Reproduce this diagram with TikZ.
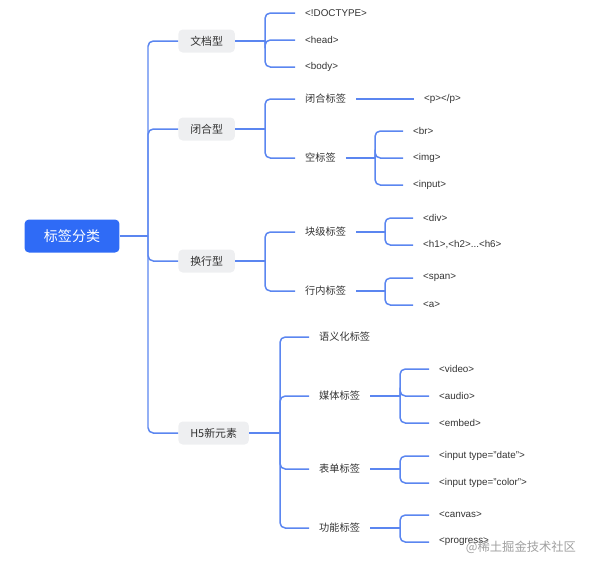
\documentclass[tikz,border=0pt]{standalone}
\usepackage{fontspec}
\setmainfont{Liberation Sans}
\newfontfamily\cjk{Noto Sans CJK SC}
\usetikzlibrary{positioning}
\definecolor{rootblue}{HTML}{2F6BF6}
\definecolor{lineblue}{HTML}{5B86F0}
\definecolor{boxgray}{HTML}{EEEFF1}
\definecolor{textdark}{HTML}{333333}

\begin{document}
\begin{tikzpicture}[x=0.02cm, y=-0.02cm,
  rootbox/.style={fill=rootblue, text=white, rounded corners=2.5pt, minimum width=1.9cm, minimum height=0.66cm, font=\cjk\fontsize{8}{9}\selectfont},
  typebox/.style={anchor=west, fill=boxgray, text=textdark, rounded corners=2.5pt, inner xsep=6.8pt, minimum height=0.46cm, font=\cjk\fontsize{6.2}{7}\selectfont},
  subtag/.style={anchor=west, inner xsep=5.6pt, inner ysep=1pt, text=textdark, font=\cjk\fontsize{5.8}{7}\selectfont},
  leaf/.style={anchor=west, inner xsep=5.6pt, inner ysep=1pt, text=textdark, font=\fontsize{5.6}{7}\selectfont},
  link/.style={draw=lineblue, line width=0.85pt, rounded corners=3pt}]
  \useasboundingbox (0,0) rectangle (594,569);
  % root and first level
  \node[rootbox] (root) at (72,236) {标签分类};
  \node[typebox] (doc) at (178,41) {文档型};
  \node[typebox] (close) at (178,129) {闭合型};
  \node[typebox] (wrap) at (178,261) {换行型};
  \node[typebox] (h5) at (178,433) {H5新元素};
  % second level
  \node[leaf] (doctype) at (295,13) {<!DOCTYPE>};
  \node[leaf] (head) at (295,40) {<head>};
  \node[leaf] (body) at (295,67) {<body>};
  \node[subtag] (pair) at (295,99) {闭合标签};
  \node[subtag] (empty) at (295,158) {空标签};
  \node[subtag] (block) at (295,232) {块级标签};
  \node[subtag] (inline) at (295,291) {行内标签};
  \node[subtag] (sem) at (309,337) {语义化标签};
  \node[subtag] (media) at (309,396) {媒体标签};
  \node[subtag] (form) at (309,469) {表单标签};
  \node[subtag] (func) at (309,528) {功能标签};
  % third level
  \node[leaf] (ptag) at (414,99) {<p></p>};
  \node[leaf] (br) at (403,131) {<br>};
  \node[leaf] (img) at (403,158) {<img>};
  \node[leaf] (input) at (403,185) {<input>};
  \node[leaf] (div) at (413,218) {<div>};
  \node[leaf] (hx) at (413,245) {<h1>,<h2>...<h6>};
  \node[leaf] (span) at (413,278) {<span>};
  \node[leaf] (anchor) at (413,305) {<a>};
  \node[leaf] (video) at (429,369) {<video>};
  \node[leaf] (audio) at (429,396) {<audio>};
  \node[leaf] (embed) at (429,423) {<embed>};
  \node[leaf] (date) at (429,456) {<input type="date">};
  \node[leaf] (color) at (429,483) {<input type="color">};
  \node[leaf] (canvas) at (429,515) {<canvas>};
  \node[leaf] (progress) at (429,542) {<progress>};
  % junctions
  \coordinate (jroot) at (148,236);
  \coordinate (jdoc) at (265,41);
  \coordinate (jclose) at (265,129);
  \coordinate (jwrap) at (265,261);
  \coordinate (jh5) at (280,433);
  \coordinate (jempty) at (375,158);
  \coordinate (jblock) at (385,232);
  \coordinate (jinline) at (385,291);
  \coordinate (jmedia) at (400,396);
  \coordinate (jform) at (400,469);
  \coordinate (jfunc) at (400,528);
  % connectors
  \draw[link] (root) -- (jroot);
  \foreach \c in {doc,close,wrap,h5} \draw[link] (jroot) |- (\c.west);
  \draw[link] (doc) -- (jdoc);
  \foreach \c in {doctype,head,body} \draw[link] (jdoc) |- (\c.west);
  \draw[link] (close) -- (jclose);
  \foreach \c in {pair,empty} \draw[link] (jclose) |- (\c.west);
  \draw[link] (pair) -- (ptag);
  \draw[link] (empty) -- (jempty);
  \foreach \c in {br,img,input} \draw[link] (jempty) |- (\c.west);
  \draw[link] (wrap) -- (jwrap);
  \foreach \c in {block,inline} \draw[link] (jwrap) |- (\c.west);
  \draw[link] (block) -- (jblock);
  \foreach \c in {div,hx} \draw[link] (jblock) |- (\c.west);
  \draw[link] (inline) -- (jinline);
  \foreach \c in {span,anchor} \draw[link] (jinline) |- (\c.west);
  \draw[link] (h5) -- (jh5);
  \foreach \c in {sem,media,form,func} \draw[link] (jh5) |- (\c.west);
  \draw[link] (media) -- (jmedia);
  \foreach \c in {video,audio,embed} \draw[link] (jmedia) |- (\c.west);
  \draw[link] (form) -- (jform);
  \foreach \c in {date,color} \draw[link] (jform) |- (\c.west);
  \draw[link] (func) -- (jfunc);
  \foreach \c in {canvas,progress} \draw[link] (jfunc) |- (\c.west);
  % watermark
  \node[text=gray!75, font=\cjk\fontsize{7}{8}\selectfont] (mark) at (521,547) {@稀土掘金技术社区};
\end{tikzpicture}
\end{document}
